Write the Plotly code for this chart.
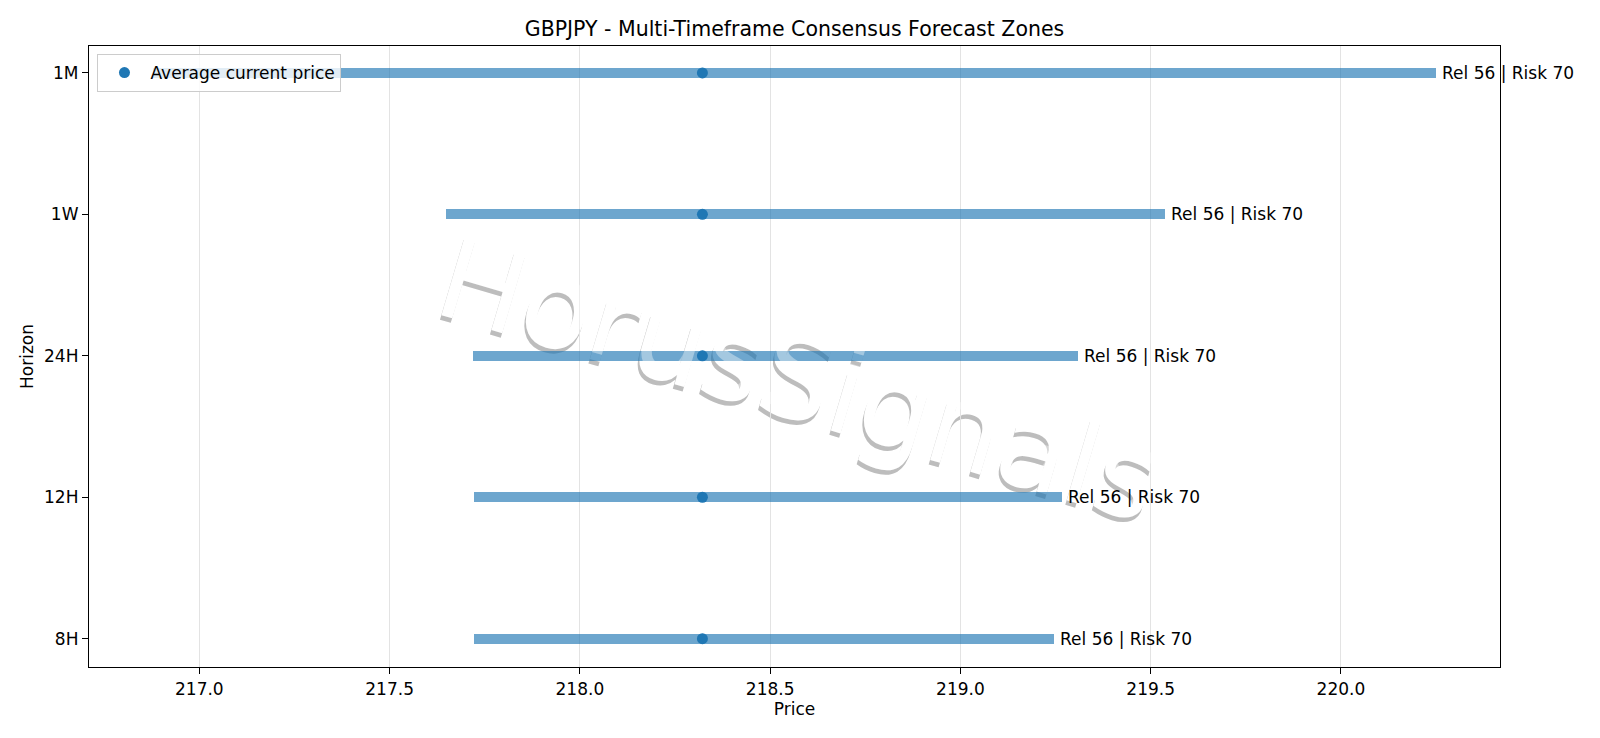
import plotly.graph_objects as go

# ---- data ----
horizons = ["8H", "12H", "24H", "1W", "1M"]
zone_low = [217.723, 217.723, 217.719, 217.648, 216.878]
zone_high = [219.245, 219.266, 219.308, 219.538, 220.251]
avg_price = [218.322, 218.322, 218.322, 218.322, 218.322]
reliability = [56, 56, 56, 56, 56]
risk = [70, 70, 70, 70, 70]
x_ticks = [217.0, 217.5, 218.0, 218.5, 219.0, 219.5, 220.0]

FONT = "DejaVu Sans"
BLUE = "#1f77b4"
WM_TEXT = "HorusSignals"
WM_SIZE = 114
WM_ANGLE = 16.5
WM_X, WM_Y = 0.5045, 0.475

fig = go.Figure()

fig.add_trace(go.Bar(
    orientation="h",
    y=horizons,
    x=[h - l for l, h in zip(zone_low, zone_high)],
    base=zone_low,
    width=0.072,
    marker=dict(color="rgba(31,119,180,0.65)", line=dict(width=0)),
    showlegend=False,
    hoverinfo="skip",
))

fig.add_trace(go.Scatter(
    x=avg_price,
    y=horizons,
    mode="markers",
    marker=dict(color=BLUE, size=11),
    name="Average current price",
))

# watermark: gray offset "shadow" + white body beneath traces, translucent white on top
def wm_shape(dx, dy, color):
    return dict(
        type="rect", xref="paper", yref="paper",
        x0=WM_X + dx - 0.01, x1=WM_X + dx + 0.01,
        y0=WM_Y + dy - 0.01, y1=WM_Y + dy + 0.01,
        line=dict(width=0), fillcolor="rgba(0,0,0,0)",
        layer="between",
        label=dict(text=WM_TEXT, textangle=WM_ANGLE, textposition="middle center",
                   font=dict(family=FONT, size=WM_SIZE, color=color)),
    )

shapes = [
    wm_shape(-0.0011, -0.0072, "#bdbdbd"),
    wm_shape(0.0, 0.0, "white"),
]

annotations = [dict(
    x=WM_X, y=WM_Y, xref="paper", yref="paper",
    text=WM_TEXT,
    showarrow=False, xanchor="center", yanchor="middle",
    textangle=WM_ANGLE,
    font=dict(family=FONT, size=WM_SIZE, color="rgba(255,255,255,0.38)"),
)]
for h, hi, r, k in zip(horizons, zone_high, reliability, risk):
    annotations.append(dict(
        x=hi, y=h, xref="x", yref="y",
        text=f"Rel {r} | Risk {k}",
        showarrow=False, xanchor="left", yanchor="middle",
        xshift=4,
        font=dict(family=FONT, size=17, color="black"),
    ))

fig.update_layout(
    width=1600, height=738,
    margin=dict(l=89, r=100, t=46, b=71),
    paper_bgcolor="white",
    plot_bgcolor="white",
    font=dict(family=FONT, size=17, color="black"),
    title=dict(
        text="GBPJPY - Multi-Timeframe Consensus Forecast Zones",
        x=0.5, xref="paper", xanchor="center", y=1 - 28.6 / 738, yanchor="middle",
        yref="container",
        font=dict(family=FONT, size=20.5, color="black"),
    ),
    showlegend=True,
    legend=dict(
        x=0.006, y=0.987, xanchor="left", yanchor="top",
        bgcolor="rgba(255,255,255,0.8)",
        bordercolor="#cccccc", borderwidth=1,
        itemwidth=42,
        font=dict(family=FONT, size=17, color="black"),
    ),
    annotations=annotations,
    shapes=shapes,
    bargap=0,
)

fig.update_xaxes(
    range=[216.710, 220.418],
    tickvals=x_ticks,
    ticktext=[f"{v:.1f}" for v in x_ticks],
    showgrid=True, gridcolor="#e3e3e3", gridwidth=1,
    showline=True, linecolor="black", linewidth=1.3, mirror=True,
    ticks="outside", ticklen=6, tickcolor="black", tickwidth=1.3,
    tickfont=dict(family=FONT, size=17, color="black"),
    title=dict(text="Price", font=dict(family=FONT, size=17, color="black"), standoff=5),
    zeroline=False,
)

fig.update_yaxes(
    type="category",
    categoryorder="array", categoryarray=horizons,
    range=[-0.2, 4.19],
    showgrid=False,
    showline=True, linecolor="black", linewidth=1.3, mirror=True,
    ticks="outside", ticklen=6, tickcolor="black", tickwidth=1.3,
    tickfont=dict(family=FONT, size=17, color="black"),
    title=dict(text="Horizon", font=dict(family=FONT, size=17, color="black"), standoff=6),
    zeroline=False,
)

fig.write_html("out.html")
